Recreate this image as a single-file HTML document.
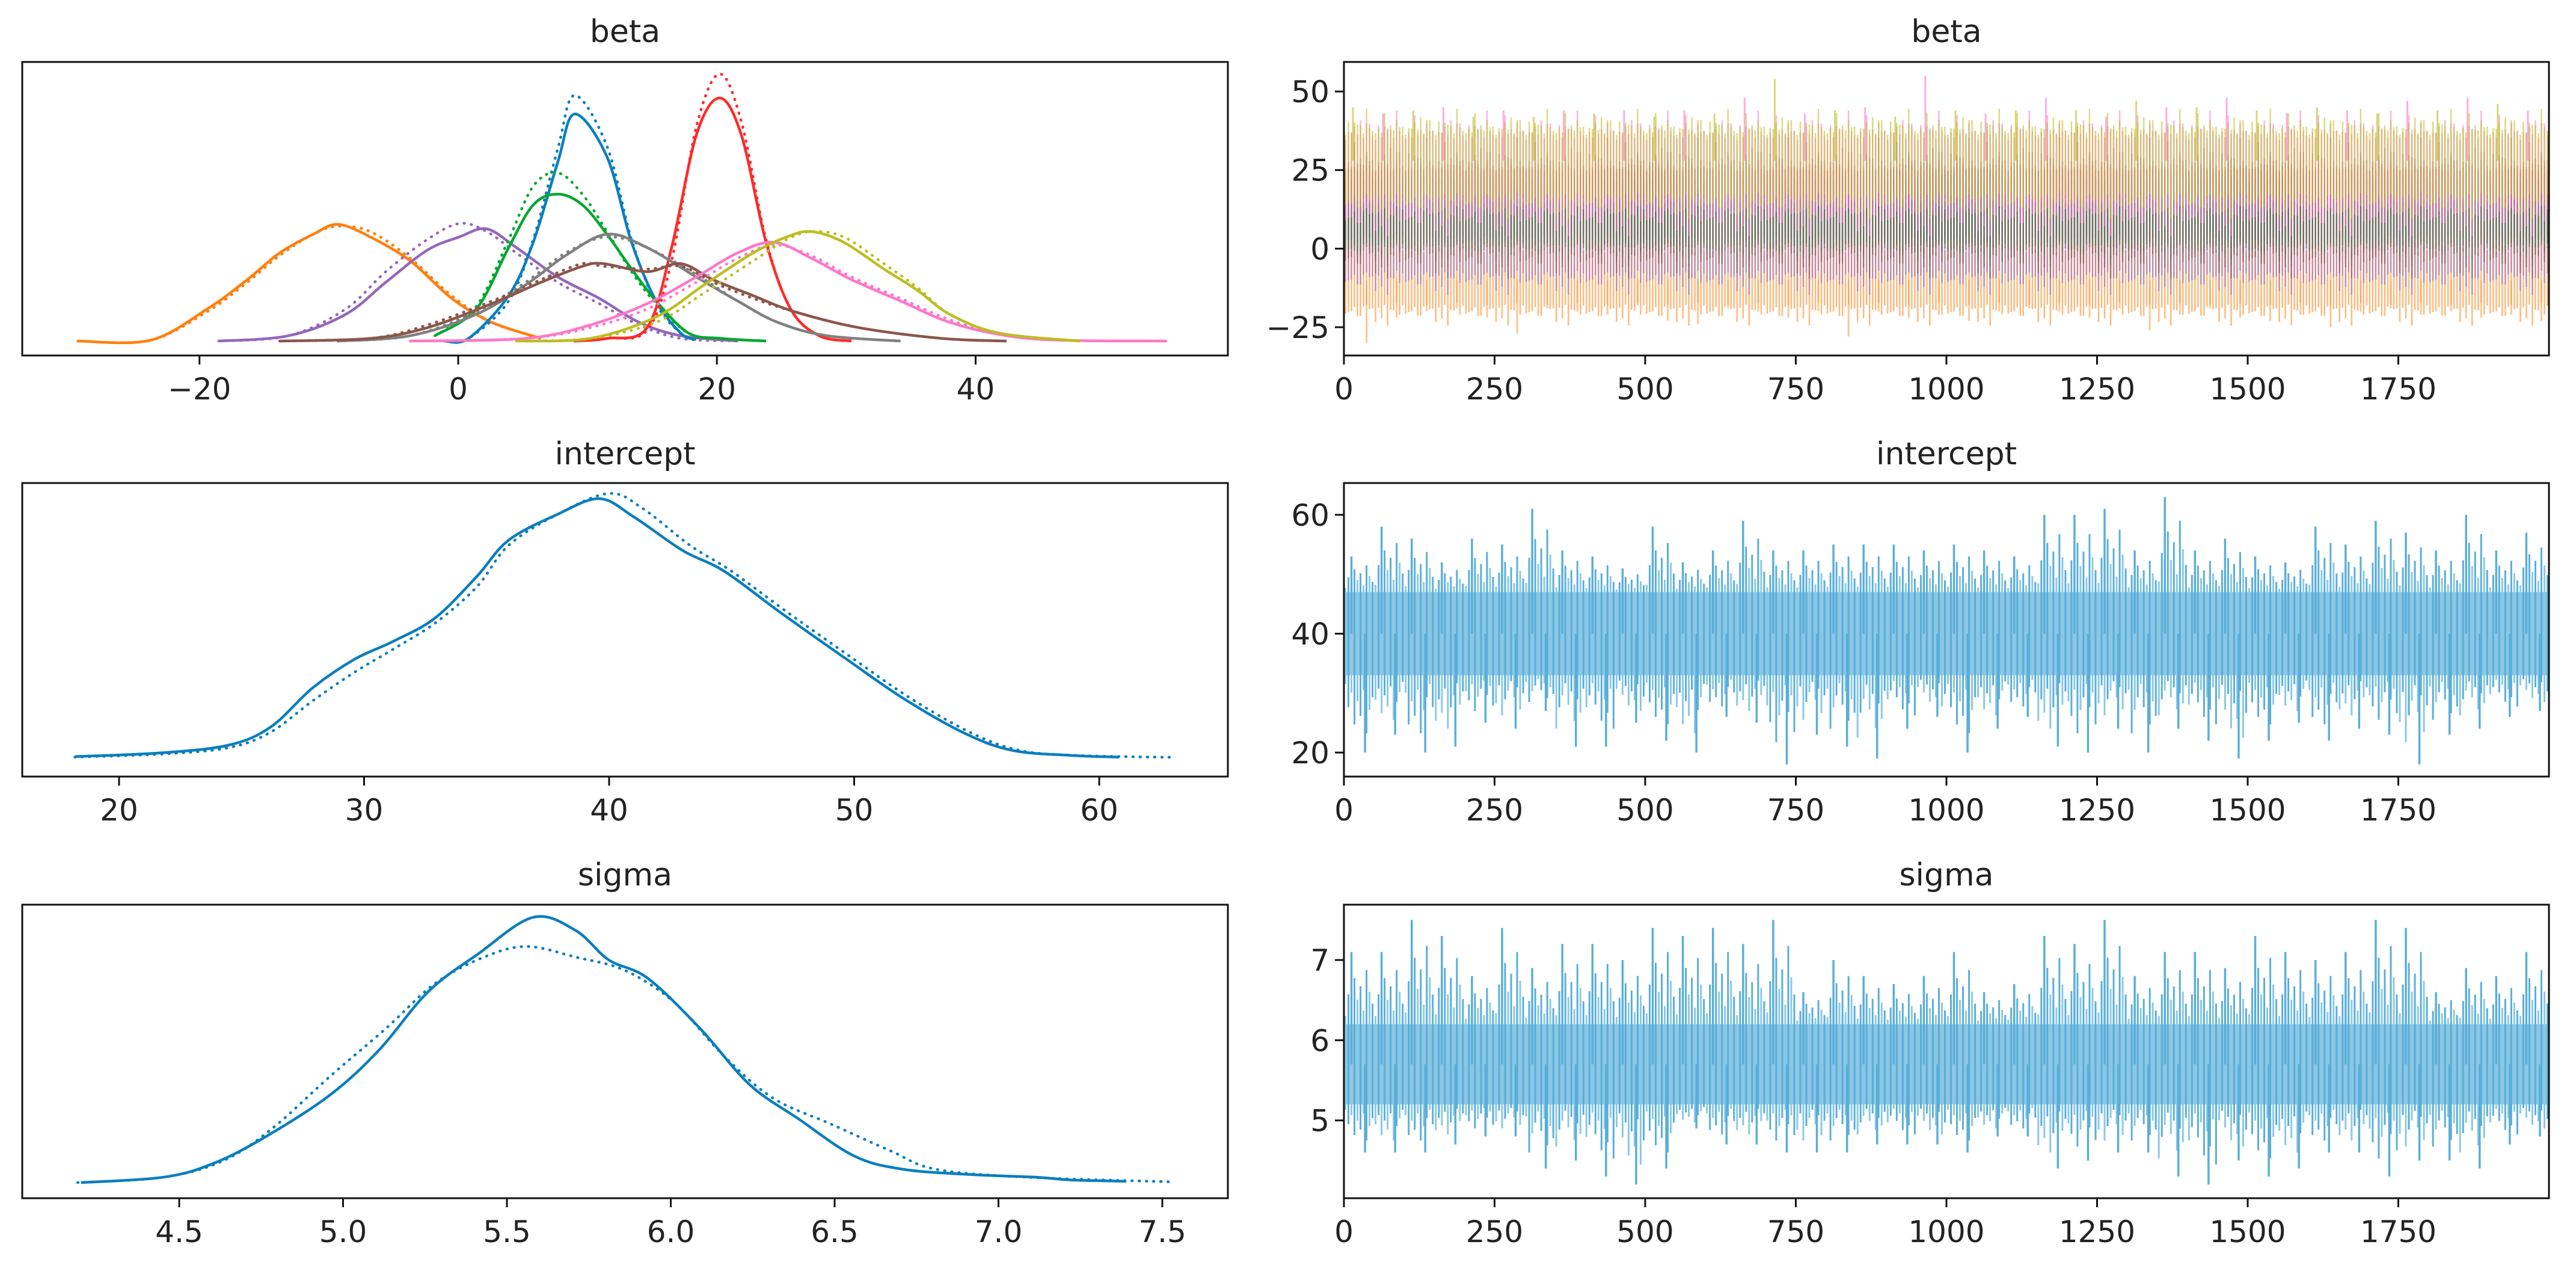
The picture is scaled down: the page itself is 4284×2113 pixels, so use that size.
<!DOCTYPE html>
<html><head><meta charset="utf-8"><style>
html,body{margin:0;padding:0;background:#fff;}
svg{display:block;}
text{font-family:"DejaVu Sans","Liberation Sans",sans-serif;fill:#222;}
</style></head><body>
<svg id="fig" width="4284" height="2113" viewBox="0 0 4284 2113" xmlns="http://www.w3.org/2000/svg"></svg>
<script>
// ---------- data ----------
const betaColors = ["#ff7f0e","#9467bd","#0a7ebf","#00a82e","#ff2a2a","#808080","#8c564b","#ff77c8","#bcbd22"];
const betaNames = ["beta-0","beta-1","beta-2","beta-3","beta-4","beta-5","beta-6","beta-7","beta-8"];
const betaKdeX = [
 [-29.4,-23.8,-19.4,-16.3,-13.8,-11.2,-9.3,-6.8,-3.7,-0.5,2.6,6.4],
 [-18.5,-13.1,-8.7,-5.6,-2.4,0.1,2.2,4.5,7.7,10.9,14,17.2,21.6],
 [-1.1,0.8,3.9,5.8,7.7,9.0,11.5,13.4,15.3,17.2,18.4],
 [-1.8,1.4,3.9,5.8,7.7,9.6,11.5,13.4,15.3,17.8,20.3,23.8],
 [9,11.5,14.6,16.5,18.4,20.2,21.9,23.8,25.7,27.9,30.4],
 [-9.3,-3.7,1.4,5.2,8.3,11.5,14.6,18.4,21.6,24.7,28.5,34.2],
 [-13.8,-6.8,-2.4,2.6,6.4,9.6,11.2,14.6,17.2,19.7,22.8,26,31,37.4,42.4],
 [-3.7,5.2,10.2,14.6,18.4,21.6,24.4,27.3,30.4,34.2,38,42.4,46.8,54.7],
 [4.5,10.2,15.3,19,22.8,25.4,27.3,29.8,32.9,35.5,38,41.8,48]
];
const betaKdeSolid = [
 [0,0.3,12,23,33,40,43.7,39,30,16,7,1],
 [0,2,10,22,34,39,42,35,24,16,7,2,0],
 [0,1,17,37,67,85,69,37,15,3,0.5],
 [2,12,35,51,55,51,40,27,15,3,1,0],
 [0,1,5,35,77,91,77,37,12,2,0],
 [0,2,10,21,32,40,35,24,15,7,2,0],
 [0,1,5,14,22,28,29,26,29,23,17,11,5,1,0],
 [0,1,6,14,24,33,37,31,23,15,7,2,0.3,0],
 [0,1,9,21,33,39,41,37,27,19,10,3,0]
];
const betaKdeDotted = [
 [0,0.3,11,22,32,40,43,41,31,17,7,1],
 [0,2,12,26,38,44,41,33,22,14,6,1,0],
 [0,1,15,38,72,92,73,38,14,3,0.5],
 [2,13,38,58,63,55,41,26,14,3,1,0],
 [0,1,4,30,80,100,82,38,12,2,0],
 [0,2,11,22,33,39,35,25,15,7,2,0],
 [0,1,6,15,23,29,28,27,28,22,16,11,5,1,0],
 [0,1,5,12,22,31,36,32,24,16,8,2,0.3,0],
 [0,1,7,18,30,38,41,39,29,20,10,3,0]
];
const betaMean = [-9.5,1.5,9,8,20.5,12,13,24,27];
const betaSd = [6,6.5,3.5,4.5,3,7,9,8,7];
const betaTraceHi = [45,43,44,45,42,44,42,44,43,44,42,44,43,48,54,43,44,45,42,55,44,43,44,48,44,42,47,45,45,48,44,43,45,44,43,47,44,48,46,44];
const betaTraceLo = [-30,-22,-20,-19,-22,-27,-19,-20,-21,-18,-23,-24,-19,-20,-22,-20,-28,-20,-22,-21,-23,-20,-19,-20,-22,-19,-26,-21,-19,-22,-23,-21,-25,-20,-19,-21,-20,-22,-21,-23];

const interceptKdeX = [18.2,21.8,24.5,26.2,27.9,29.6,31.2,32.9,34.6,35.9,37.9,39.6,41,43,44.7,47,49.7,52,54.4,56.4,58.8,60.8];
const interceptKdeSolid = [0.5,2,5,12,27,38,45,54,70,84,94,100,93,80,72,56,38,23,10,3,1,0.3];
const interceptKdeDottedX = [18.2,21.8,24.5,26.2,27.9,29.6,31.2,32.9,34.6,35.9,37.9,40,41.4,43.3,45,47.3,50,52.3,54.7,56.7,59,63];
const interceptKdeDotted = [0.3,1.5,4,10,22,33,42,52,66,82,94,102,96,82,72,56,38,23,10,3,1,0.2];
const interceptHi = [53,58,56,52,56,55,61,54,53,51,58,52,54,59,54,54,55,55,55,54,55,54,53,60,60,61,54,63,54,56,53,52,58,55,59,57,54,60,54,57];
const interceptLo = [20,23,20,21,25,24,27,21,21,25,22,20,26,25,18,23,21,19,24,26,20,24,26,21,20,24,20,24,22,19,22,25,22,24,23,18,23,24,26,27];
const interceptCore = [33,47];

const sigmaKdeX = [4.2,4.45,4.6,4.76,4.96,5.11,5.26,5.41,5.58,5.71,5.81,5.93,6.09,6.24,6.39,6.56,6.71,6.92,7.12,7.22,7.39];
const sigmaKdeSolid = [0,2,7,17,33,50,72,86,100,95,84,77,58,37,24,10,5,3,2,1,0.5];
const sigmaKdeDottedX = [4.19,4.45,4.63,4.78,4.96,5.13,5.28,5.43,5.56,5.71,5.86,6.01,6.16,6.31,6.49,6.67,6.81,7.09,7.52];
const sigmaKdeDotted = [0,2,8,20,40,58,75,85,89,85,80,68,48,32,22,12,5,2,0.3];
const sigmaHi = [7.1,7.1,7.5,7.3,6.8,7.4,6.9,7.2,7.2,7.0,7.4,7.3,7.4,7.2,7.5,6.6,7.0,6.8,6.7,6.8,7.1,6.6,6.7,7.3,7.2,7.5,6.8,7.1,7.1,6.9,7.3,7.1,7.0,7.1,7.5,7.4,6.6,6.9,6.8,7.1];
const sigmaLo = [4.6,4.6,4.6,4.7,4.8,4.8,4.4,4.5,4.3,4.2,4.4,4.9,4.7,4.7,4.6,4.6,4.6,4.7,4.7,4.7,4.6,4.8,4.8,4.4,4.5,4.6,4.6,4.3,4.2,4.5,4.3,4.4,4.6,4.6,4.3,4.5,4.5,4.4,4.7,4.8];
const sigmaCore = [5.2,6.2];

const betaXTicks = [-20,0,20,40];
const interceptXTicks = [20,30,40,50,60];
const sigmaXTicks = [4.5,5.0,5.5,6.0,6.5,7.0,7.5];
const drawTicks = [0,250,500,750,1000,1250,1500,1750];
const betaYTicks = [-25,0,25,50];
const interceptYTicks = [20,40,60];
const sigmaYTicks = [5,6,7];
const nDraws = 2000;

// ---------- helpers ----------
const NS="http://www.w3.org/2000/svg";
const svg=document.getElementById('fig');
function el(tag,attrs,parent){const e=document.createElementNS(NS,tag);for(const k in attrs)e.setAttribute(k,attrs[k]);(parent||svg).appendChild(e);return e;}
function lin(d0,d1,r0,r1){return v=>r0+(v-d0)*(r1-r0)/(d1-d0);}
function smoothPath(pts){
  if(pts.length<2)return "";
  let d="M"+pts[0][0].toFixed(1)+","+pts[0][1].toFixed(1);
  for(let i=0;i<pts.length-1;i++){
    const p0=pts[Math.max(0,i-1)],p1=pts[i],p2=pts[i+1],p3=pts[Math.min(pts.length-1,i+2)];
    const c1x=p1[0]+(p2[0]-p0[0])/6,c1y=p1[1]+(p2[1]-p0[1])/6;
    const c2x=p2[0]-(p3[0]-p1[0])/6,c2y=p2[1]-(p3[1]-p1[1])/6;
    d+=" C"+c1x.toFixed(1)+","+c1y.toFixed(1)+" "+c2x.toFixed(1)+","+c2y.toFixed(1)+" "+p2[0].toFixed(1)+","+p2[1].toFixed(1);
  }
  return d;
}
const LX=[37,2042], RX=[2235,4239];
const ROWS=[[103,591],[803,1291],[1504,1992]];
const TITLE_Y=[70,772,1472];
const FRACS=[0.15,0.55,0.3,0.85,0.45,0.7,0.25,1.0,0.6,0.38];

function frame(x0,x1,y0,y1,name){
  const r=el('rect',{x:x0,y:y0,width:x1-x0,height:y1-y0,fill:'none',stroke:'#111','stroke-width':3});
  
  
}
function title(txt,cx,y,name){
  const t=el('text',{x:cx,y:y,'font-size':52,'text-anchor':'middle'});t.textContent=txt;
  
  
}
function xTicks(ticks,sx,y1,labels,name){
  const g=el('g',{});
  
  
  ticks.forEach((t,i)=>{
    const x=sx(t);
    el('line',{x1:x,x2:x,y1:y1,y2:y1+15,stroke:'#111','stroke-width':3},g);
    const tx=el('text',{x:x,y:y1+73,'font-size':50,'text-anchor':'middle'},g);
    tx.textContent=labels?labels[i]:String(t).replace('-','\u2212');
    
    
  });
}
function yTicks(ticks,sy,x0,name){
  const g=el('g',{});
  
  
  ticks.forEach(t=>{
    const y=sy(t);
    el('line',{x1:x0-15,x2:x0,y1:y,y2:y,stroke:'#111','stroke-width':3},g);
    const tx=el('text',{x:x0-24,y:y+18,'font-size':50,'text-anchor':'end'},g);
    tx.textContent=String(t).replace('-','\u2212');
    
    
  });
}
function kde(xs,vs,sx,sy,color,dotted,name){
  const pts=xs.map((x,i)=>[sx(x),sy(vs[i])]);
  const p=el('path',{d:smoothPath(pts),fill:'none',stroke:color,'stroke-width':4.5,'stroke-linecap':dotted?'round':'butt'});
  if(dotted)p.setAttribute('stroke-dasharray','1 11');
  
  
}
function clip(id,x0,x1,y0,y1){const c=el('clipPath',{id:id});el('rect',{x:x0,y:y0,width:x1-x0,height:y1-y0},c);}

// ---------- row 1: beta ----------
(function(){
  const [y0,y1]=ROWS[0];
  const sx=lin(-33.7,59.5,LX[0],LX[1]);
  const sy=lin(0,100,567,123);
  title('beta',(LX[0]+LX[1])/2,TITLE_Y[0],'beta-kde-title');
  betaKdeX.forEach((xs,i)=>{
    kde(xs,betaKdeSolid[i],sx,sy,betaColors[i],false,betaNames[i]+'-kde-chain1');
    kde(xs,betaKdeDotted[i],sx,sy,betaColors[i],true,betaNames[i]+'-kde-chain2');
  });
  frame(LX[0],LX[1],y0,y1,'beta-kde-axes');
  xTicks(betaXTicks,sx,y1,null,'beta-kde-x-axis');

  const tx=lin(0,nDraws,RX[0],RX[1]);
  const ty=lin(-34,59.4,y1,y0);
  clip('cb',RX[0],RX[1],y0,y1);
  const g=el('g',{'clip-path':'url(#cb)'});
  
  
  const nb=betaTraceHi.length, bw=nDraws/nb;
  betaMean.forEach((m,p)=>{
    const gp=el('g',{opacity:0.55},g);
    
    
    const sd=betaSd[p];
    for(let i=0;i<nb;i++){
      FRACS.forEach((f,k)=>{
        const x=tx(i*bw+bw*(k+0.5)/FRACS.length);
        const up=m+sd*(1.2+1.3*f*((i+k+p)%3===0?1:0.6));
        const dn=m-sd*(1.2+1.3*FRACS[(k+3)%FRACS.length]*((i+k)%2?1:0.6));
        el('line',{x1:x,x2:x,y1:ty(up),y2:ty(dn),stroke:betaColors[p],'stroke-width':2.5},gp);
      });
    }
  });
  betaTraceHi.forEach((h,i)=>{
    const xa=tx(i*bw+bw*0.3), xb=tx(i*bw+bw*0.75);
    const s1=el('line',{x1:xa,x2:xa,y1:ty(28),y2:ty(h),stroke:i%2?'#ff77c8':'#bcbd22','stroke-width':3,opacity:0.6},g);
    
    const s2=el('line',{x1:xb,x2:xb,y1:ty(-10),y2:ty(betaTraceLo[i]),stroke:'#ff9f4a','stroke-width':3,opacity:0.6},g);
    
  });
  frame(RX[0],RX[1],y0,y1,'beta-trace-axes');
  title('beta',(RX[0]+RX[1])/2,TITLE_Y[0],'beta-trace-title');
  xTicks(drawTicks,tx,y1,null,'beta-trace-x-axis');
  yTicks(betaYTicks,ty,RX[0],'beta-trace-y-axis');
})();

function tracePanel(row,yd,hi,lo,core,name){
  const [y0,y1]=ROWS[row];
  const tx=lin(0,nDraws,RX[0],RX[1]);
  const ty=lin(yd[0],yd[1],y1,y0);
  clip('c'+name,RX[0],RX[1],y0,y1);
  const g=el('g',{'clip-path':'url(#c'+name+')'});
  
  
  const mid=(core[0]+core[1])/2;
  const r=el('rect',{x:RX[0],width:RX[1]-RX[0],y:ty(core[1]),height:ty(core[0])-ty(core[1]),fill:'#6db8dd',opacity:0.8},g);
  
  const nb=hi.length, bw=nDraws/nb;
  for(let i=0;i<nb;i++){
    FRACS.forEach((f,k)=>{
      const x=tx(i*bw+bw*(k+0.5)/FRACS.length);
      const f2=FRACS[(k+i)%FRACS.length];
      const up=core[1]+(hi[i]-core[1])*f*0.75;
      const dn=core[0]-(core[0]-lo[i])*f2*0.75;
      const l=el('line',{x1:x,x2:x,y1:ty(up),y2:ty(dn),stroke:k%2?'#5aaed8':'#8ac8e6','stroke-width':3},g);
      
    });
    const xa=tx(i*bw+bw*0.25), xb=tx(i*bw+bw*0.7);
    const a=el('line',{x1:xa,x2:xa,y1:ty(mid),y2:ty(hi[i]),stroke:'#5aaed8','stroke-width':3.5},g);
    
    const b=el('line',{x1:xb,x2:xb,y1:ty(mid),y2:ty(lo[i]),stroke:'#5aaed8','stroke-width':3.5},g);
    
  }
  frame(RX[0],RX[1],y0,y1,name+'-trace-axes');
  title(name,(RX[0]+RX[1])/2,TITLE_Y[row],name+'-trace-title');
  return {tx,ty,y1};
}

// ---------- row 2: intercept ----------
(function(){
  const [y0,y1]=ROWS[1];
  const sx=lin(16.05,65.25,LX[0],LX[1]);
  const sy=lin(0,100,1260,829);
  title('intercept',(LX[0]+LX[1])/2,TITLE_Y[1],'intercept-kde-title');
  kde(interceptKdeX,interceptKdeSolid,sx,sy,'#0a7ebf',false,'intercept-kde-chain1');
  kde(interceptKdeDottedX,interceptKdeDotted,sx,sy,'#0a7ebf',true,'intercept-kde-chain2');
  frame(LX[0],LX[1],y0,y1,'intercept-kde-axes');
  xTicks(interceptXTicks,sx,y1,null,'intercept-kde-x-axis');
  const t=tracePanel(1,[15.96,65.35],interceptHi,interceptLo,interceptCore,'intercept');
  xTicks(drawTicks,t.tx,y1,null,'intercept-trace-x-axis');
  yTicks(interceptYTicks,t.ty,RX[0],'intercept-trace-y-axis');
})();

// ---------- row 3: sigma ----------
(function(){
  const [y0,y1]=ROWS[2];
  const sx=lin(4.021,7.70,LX[0],LX[1]);
  const sy=lin(0,100,1966,1525);
  title('sigma',(LX[0]+LX[1])/2,TITLE_Y[2],'sigma-kde-title');
  kde(sigmaKdeX,sigmaKdeSolid,sx,sy,'#0a7ebf',false,'sigma-kde-chain1');
  kde(sigmaKdeDottedX,sigmaKdeDotted,sx,sy,'#0a7ebf',true,'sigma-kde-chain2');
  frame(LX[0],LX[1],y0,y1,'sigma-kde-axes');
  xTicks(sigmaXTicks,sx,y1,sigmaXTicks.map(v=>v.toFixed(1)),'sigma-kde-x-axis');
  const t=tracePanel(2,[4.03,7.69],sigmaHi,sigmaLo,sigmaCore,'sigma');
  xTicks(drawTicks,t.tx,y1,null,'sigma-trace-x-axis');
  yTicks(sigmaYTicks,t.ty,RX[0],'sigma-trace-y-axis');
})();
</script>
</body></html>
